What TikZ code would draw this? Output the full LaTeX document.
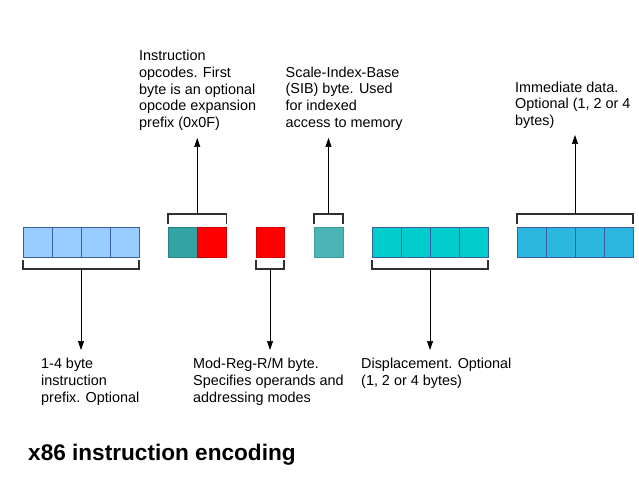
\documentclass[tikz,border=0pt]{standalone}
\usepackage{fontspec}
\setmainfont{Liberation Sans}
\usetikzlibrary{arrows.meta,calc}
\definecolor{pre}{HTML}{99CCFF}
\definecolor{opc}{HTML}{33A3A3}
\definecolor{sib}{HTML}{4BB5B5}
\definecolor{dsp}{HTML}{00CCCC}
\definecolor{imm}{HTML}{29B6DF}
\definecolor{div}{HTML}{3A5DA8}
\definecolor{brk}{HTML}{303030}
\begin{document}
\begin{tikzpicture}[x=1pt,y=-1pt,
  cell/.style={minimum width=29pt,minimum height=30pt,inner sep=0pt,outer sep=0pt,draw=div,line width=0.6pt,anchor=north west},
  bracket/.style={draw=brk,line width=1.1pt},
  conn/.style={draw=black,line width=0.7pt,-{Triangle[length=9pt,width=6pt]}},
  lbl/.style={anchor=north west,align=left,inner sep=0pt,font=\fontsize{14.4}{16.7}\selectfont}]
\useasboundingbox (0,0) rectangle (639,494);
% prefix
\node[cell,fill=pre] (p1) at (23,227) {};
\node[cell,fill=pre] (p2) at (52,227) {};
\node[cell,fill=pre] (p3) at (81,227) {};
\node[cell,fill=pre] (p4) at (110,227) {};
% opcode
\node[cell,fill=opc,draw=opc!80!black] (o1) at (168,227) {};
\node[cell,fill=red,draw=red!80!black] (o2) at (197.5,227) {};
% modrm
\node[cell,fill=red,draw=red!80!black,minimum width=28pt] (m) at (256,227) {};
% sib
\node[cell,fill=sib,draw=sib!85!black] (s) at (314,227) {};
% displacement
\node[cell,fill=dsp] (d1) at (372,227) {};
\node[cell,fill=dsp] (d2) at (401,227) {};
\node[cell,fill=dsp] (d3) at (430,227) {};
\node[cell,fill=dsp] (d4) at (459,227) {};
% immediate
\node[cell,fill=imm] (i1) at (517,227) {};
\node[cell,fill=imm] (i2) at (546,227) {};
\node[cell,fill=imm] (i3) at (575,227) {};
\node[cell,fill=imm] (i4) at (604,227) {};

% labels
\node[lbl] (tOp) at (139,50) {Instruction\\opcodes. First\\byte is an optional\\opcode expansion\\prefix (0x0F)};
\node[lbl] (tSib) at (285.5,66.5) {Scale-Index-Base\\(SIB) byte. Used\\for indexed\\access to memory};
\node[lbl] (tImm) at (515,81.5) {Immediate data.\\Optional (1, 2 or 4\\bytes)};
\node[lbl] (tPre) at (41,358) {1-4 byte\\instruction\\prefix. Optional};
\node[lbl] (tMod) at (193,358) {Mod-Reg-R/M byte.\\Specifies operands and\\addressing modes};
\node[lbl] (tDsp) at (361,358) {Displacement. Optional\\(1, 2 or 4 bytes)};
\node[anchor=base west,inner sep=0pt,font=\fontsize{22.6}{26}\selectfont\bfseries] (title) at (28,460) {x86 instruction encoding};

% brackets bottom
\draw[bracket] (p1.south west) ++(0,3) -- ++(0,9) coordinate (pa) -- (pa -| p4.south east) coordinate (pz) -- ++(0,-9);
\draw[bracket] (m.south west) ++(0,3) -- ++(0,9) coordinate (ma) -- (ma -| m.south east) coordinate (mz) -- ++(0,-9);
\draw[bracket] (d1.south west) ++(0,3) -- ++(0,9) coordinate (da) -- (da -| d4.south east) coordinate (dz) -- ++(0,-9);
% brackets top
\draw[bracket] (o1.north west) ++(0,-3) -- ++(0,-10) coordinate (oa) -- (oa -| o2.north east) coordinate (oz) -- ++(0,10);
\draw[bracket] (s.north west) ++(0,-3) -- ++(0,-10) coordinate (sa) -- (sa -| s.north east) coordinate (sz) -- ++(0,10);
\draw[bracket] (i1.north west) ++(0,-3) -- ++(0,-10) coordinate (ia) -- (ia -| i4.north east) coordinate (iz) -- ++(0,10);

% connector start points (bracket centres)
\coordinate (pm) at ($(pa)!0.5!(pz)$);
\coordinate (mm) at ($(ma)!0.5!(mz)$);
\coordinate (dm) at ($(da)!0.5!(dz)$);
\coordinate (om) at ($(oa)!0.5!(oz)$);
\coordinate (sm) at ($(sa)!0.5!(sz)$);
\coordinate (im) at ($(ia)!0.5!(iz)$);
% connector end points
\coordinate (pe) at (pm |- 0,350);
\coordinate (me) at (mm |- 0,350);
\coordinate (de) at (dm |- 0,350);
\coordinate (oe) at (om |- 0,138);
\coordinate (se) at (sm |- 0,138);
\coordinate (ie) at (im |- 0,135);

\draw[conn] (pm) -- (pe);
\draw[conn] (mm) -- (me);
\draw[conn] (dm) -- (de);
\draw[conn] (om) -- (oe);
\draw[conn] (sm) -- (se);
\draw[conn] (im) -- (ie);
\end{tikzpicture}
\end{document}
